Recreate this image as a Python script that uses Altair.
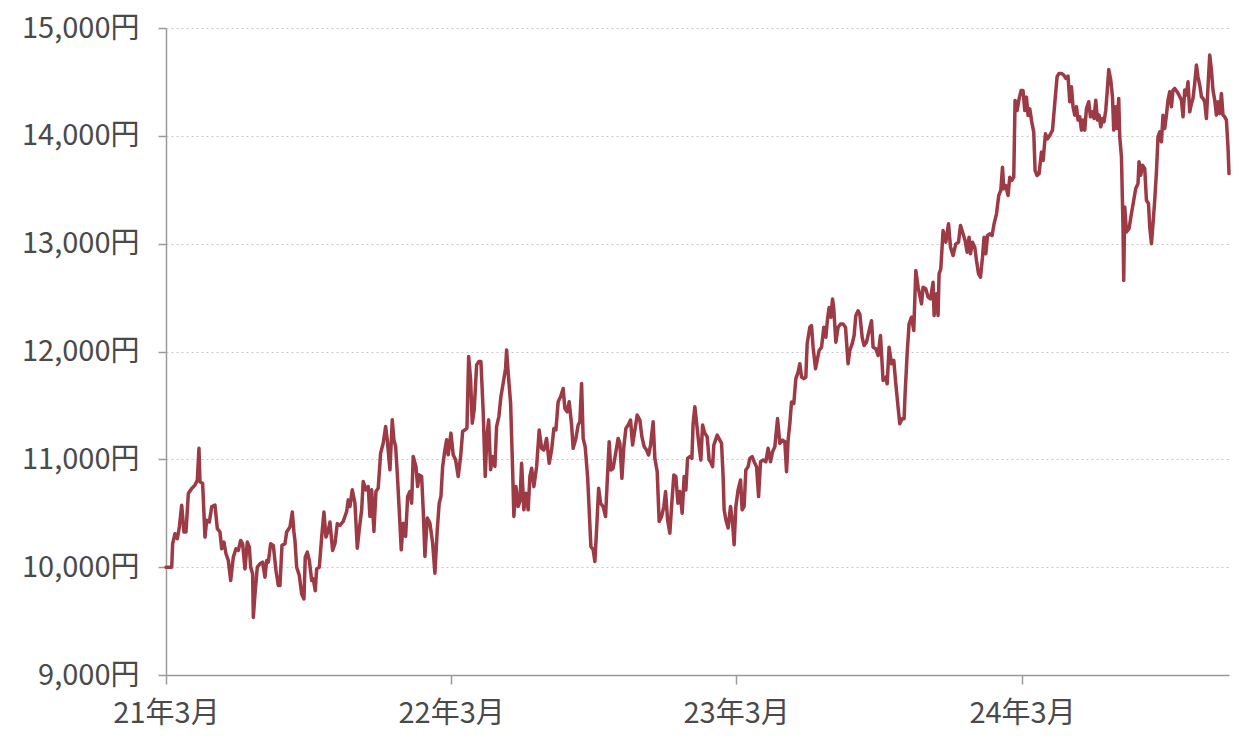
import altair as alt
import pandas as pd

start_date = "2021-03-01"

# days after 2021-03-01 and fund NAV (円)
days = [
    0.0, 7.3, 8.5, 11.5, 14.5, 17.1, 20.1, 23.0, 25.6, 28.6, 32.9, 37.1, 40.1, 42.2, 43.5, 46.9,
    49.9, 52.1, 55.5, 58.5, 62.7, 65.7, 69.1, 71.3, 74.2, 76.8, 79.8, 82.8, 86.2, 89.6, 92.6, 95.6,
    98.1, 101.1, 104.1, 106.7, 108.4, 110.9, 111.8, 113.9, 116.9, 120.3, 123.7, 126.7, 128.9, 131.0,
    134.0, 137.4, 140.8, 143.8, 145.9, 148.5, 152.3, 154.5, 158.7, 161.7, 163.8, 165.1, 167.3, 170.7,
    173.7, 176.6, 178.3, 180.9, 183.5, 186.5, 188.6, 191.1, 192.9, 196.3, 199.3, 202.2, 204.8, 207.8,
    209.9, 213.3, 216.3, 219.3, 222.7,
    226.9, 231.3, 233.3, 235.5, 238.5, 241.9, 244.9, 247.4, 250.5, 252.5, 256.0, 258.9, 261.1, 263.3,
    266.2, 268.8, 271.7, 274.8, 278.1, 281.2, 283.3, 286.7, 289.7, 291.8, 294.0, 296.1, 298.6, 301.2,
    303.7, 306.8, 309.4, 312.3, 314.5, 316.5, 320.0, 322.2, 324.2, 327.3, 329.3, 331.5, 334.5, 337.9,
    341.4, 344.3, 347.3, 349.8, 352.0, 354.2, 357.1, 359.3, 361.3, 364.8, 367.7, 370.8, 374.1, 377.2,
    379.8, 382.7, 385.3, 387.5, 390.0, 392.1, 394.6, 397.7, 400.6, 403.2, 406.1, 408.7, 410.9, 413.1,
    415.6, 418.2, 421.1, 423.3, 426.2, 428.8, 431.7, 434.8, 436.1, 438.1, 441.2, 443.8, 445.4, 448.0,
    450.9, 453.1, 455.3, 458.2, 460.8, 463.7, 465.9,
    468.1, 471.0, 474.5, 477.8, 480.9, 483.8, 487.3, 490.6, 493.7, 496.6, 499.2, 502.1, 505.2, 508.5,
    510.7, 513.7, 516.2, 519.3, 521.3, 524.8, 527.7, 529.9, 532.1, 534.1, 536.7, 539.8, 541.8, 544.0,
    546.9, 549.1, 551.3, 553.9, 556.4, 559.7, 562.8, 564.9, 567.4, 569.6, 572.5, 576.0, 578.9, 581.1,
    583.7, 586.2, 588.8, 591.7, 594.8, 597.4, 600.3, 603.3, 606.7, 609.3, 612.2, 615.3, 617.9, 620.4,
    623.7, 625.9, 628.9, 631.4, 634.5, 637.4, 639.6, 642.2, 645.1, 647.3, 650.2, 652.8, 655.4, 657.9,
    660.9, 663.4, 665.6, 667.8, 670.7, 673.3, 674.9, 677.1, 680.1, 682.6, 684.8, 687.0, 689.9, 692.9,
    695.4,
    697.2, 699.8, 701.4, 705.7, 709.1, 711.3, 713.3, 714.6, 716.8, 719.7, 722.8, 725.4, 727.4, 729.6,
    732.5, 735.6, 737.7, 740.2, 742.4, 745.3, 747.5, 750.5, 753.0, 756.1, 758.7, 761.2, 764.5, 768.0,
    770.9, 774.0, 776.6, 779.5, 783.0, 785.9, 789.4, 792.3, 794.5, 796.5, 798.7, 800.9, 803.8, 806.4,
    809.3, 811.5, 813.7, 816.6, 819.2, 820.9, 824.3, 826.5, 828.5, 831.6, 833.7, 836.2, 839.3, 842.2,
    844.8, 847.0, 849.0, 851.2, 853.4, 855.0, 857.6, 860.5, 863.6, 866.9, 870.0, 873.3, 875.5, 878.5,
    881.0, 883.2, 886.1, 888.3, 891.3, 893.8, 896.9, 900.2, 903.3, 905.3, 908.8, 911.7, 914.8,
    918.1, 921.6, 923.3, 925.8, 928.9, 931.8, 934.4, 937.3, 939.5, 942.5, 945.0, 946.3, 948.9, 951.4,
    954.5, 957.4, 960.0, 963.0, 967.3, 969.3, 972.8, 975.7, 978.8, 982.1, 983.4, 986.5, 988.5, 989.8,
    992.0, 994.9, 998.4, 1001.9, 1004.4, 1007.7, 1011.2, 1014.7, 1017.2, 1020.5, 1023.1, 1025.7,
    1028.2, 1030.0, 1032.6, 1035.5, 1037.7, 1040.3, 1042.8, 1045.4, 1047.4, 1049.6, 1051.8, 1054.7,
    1057.7, 1060.2, 1063.3, 1066.2, 1068.8, 1071.0, 1072.6, 1075.2, 1078.1, 1080.3, 1082.9, 1085.4,
    1087.1, 1089.7, 1092.2, 1094.8, 1097.3, 1099.5, 1101.7, 1103.7, 1105.9, 1108.5, 1111.0, 1112.7,
    1115.3, 1117.8, 1120.9, 1123.0, 1126.0, 1128.6, 1131.5,
    1135.0, 1137.9, 1140.9, 1143.4, 1146.5, 1149.4, 1152.0, 1154.9, 1157.1, 1159.3, 1161.3, 1163.5,
    1165.7, 1167.7, 1169.9, 1172.1, 1174.1, 1176.3, 1178.5, 1181.4, 1183.6, 1186.2, 1188.2, 1190.4,
    1192.6, 1194.6, 1196.8, 1199.0, 1201.0, 1203.2, 1204.9, 1207.0, 1209.6, 1211.8, 1213.4, 1215.6,
    1217.7, 1219.8, 1221.1, 1223.3, 1225.3, 1226.2, 1227.5, 1229.7, 1233.0, 1236.1, 1239.0, 1241.6,
    1244.5, 1245.8, 1248.0, 1250.2, 1253.1, 1255.3, 1257.9, 1259.5, 1261.7, 1263.7, 1265.9, 1268.1,
    1270.1, 1272.3, 1274.5, 1276.5, 1278.7, 1280.9, 1282.9, 1285.1, 1287.3, 1289.3, 1291.5, 1294.5,
    1297.0, 1300.1, 1302.1, 1304.3, 1306.5, 1308.5, 1310.7, 1312.9, 1314.9, 1317.1, 1319.3, 1321.3,
    1323.5, 1325.7, 1327.7, 1329.9, 1332.1, 1334.1, 1336.3, 1338.5, 1340.5, 1342.7, 1344.9, 1346.9,
    1349.1, 1351.3, 1353.3, 1355.5, 1357.7, 1359.7, 1361.0,
]

nav = [
    10000, 10000, 10217, 10310, 10264, 10373, 10575, 10326, 10326, 10683, 10730, 10761, 10807, 11102, 10792, 10776,
    10279, 10435, 10419, 10559, 10575, 10357, 10326, 10171, 10233, 10124, 10062, 9876, 10093, 10171, 10155, 10248,
    10217, 9984, 10233, 10186, 10000, 9938, 9534, 9751, 10000, 10031, 10047, 9907, 10062, 10047,
    10217, 10202, 9969, 9829, 9829, 10202, 10217, 10326, 10373, 10512, 10326, 10248, 10000, 9922,
    9751, 9705, 10093, 10140, 10062, 9876, 9891, 9782, 9984, 10000, 10279, 10512, 10279, 10342,
    10419, 10155, 10217, 10404, 10388,
    10424, 10516, 10624, 10563, 10717, 10594, 10176, 10346, 10532, 10795, 10717, 10748, 10470, 10717,
    10331, 10702, 10733, 11057, 11150, 11305, 11181, 10903, 11366, 11181, 11119, 10872, 10532, 10161,
    10408, 10285, 10655, 10702, 10594, 11026, 10934, 10748, 10856, 10841, 10532, 10099, 10455, 10408,
    10223, 9944, 10346, 10594, 10655, 10934, 11088, 11181, 11042, 11243, 11042, 10995, 10841, 11026,
    11258, 11274, 11289, 11954, 11737, 11335, 11459, 11876, 11907, 11907, 11444, 10841, 11212, 11366,
    10903, 11026, 10934, 11305, 11397, 11583, 11706, 11845, 12015, 11799, 11521, 10903, 10470, 10748,
    10563, 10609, 10964, 10532, 10686, 10532, 10841,
    10917, 10747, 10932, 11272, 11102, 11086, 11194, 10963, 11086, 11287, 11272, 11534, 11580, 11657,
    11472, 11441, 11534, 11318, 11102, 11194, 11318, 11349, 11704, 11194, 11117, 10840, 10531, 10191,
    10161, 10053, 10346, 10732, 10593, 10562, 10469, 10793, 11164, 10901, 10917, 11071, 11194, 11148,
    10824, 11117, 11287, 11318, 11364, 11133, 11272, 11410, 11364, 11210, 11117, 11086, 11040, 11133,
    11349, 11009, 10886, 10423, 10469, 10562, 10701, 10438, 10315, 10562, 10855, 10840, 10593, 10701,
    10500, 10840, 10716, 11009, 11025, 11009, 11333, 11488, 11287, 11117, 10994, 11318, 11241, 11210,
    10994,
    10978, 10932, 11132, 11225, 11178, 11148, 10840, 10532, 10440, 10363, 10563, 10409, 10209, 10563,
    10717, 10809, 10532, 10563, 10902, 10932, 11009, 11025, 10978, 10932, 10655, 10978, 10994, 10978,
    11102, 10978, 11071, 11117, 11378, 11148, 11178, 11163, 10886, 11178, 11332, 11532, 11517, 11748,
    11809, 11886, 11763, 11748, 11763, 12071, 12225, 12240, 12040, 11840, 11917, 12009, 12040, 12225,
    12132, 12302, 12409, 12317, 12486, 12394, 12086, 12225, 12255, 12255, 12225, 11886, 12009, 12071,
    12148, 12332, 12378, 12348, 12132, 12055, 12086, 12194, 12286, 12040, 12025, 11963, 12148,
    11731, 11762, 11700, 12040, 11886, 11917, 11700, 11484, 11329, 11376, 11376, 11608, 11978, 12257,
    12318, 12195, 12751, 12596, 12442, 12596, 12581, 12504, 12488, 12643, 12334, 12535, 12334, 12720,
    12767, 13122, 13014, 13184, 12968, 12890, 12998, 13014, 13169, 13091, 13029, 12921,
    13060, 12906, 13014, 12968, 12844, 12720, 12689, 12875, 13060, 12906, 13076, 13091,
    13076, 13184, 13277, 13447, 13493, 13709, 13509, 13539, 13447, 13617, 13586, 13617,
    14328, 14235, 14343, 14420, 14420, 14235, 14359, 14189, 14250, 14127, 14034, 13679,
    13632, 13648, 13849, 13771, 14019, 13972, 14003,
    14053, 14300, 14548, 14579, 14579, 14563, 14533, 14554, 14316, 14455, 14269, 14192,
    14269, 14146, 14176, 14053, 14146, 14053, 14254, 14316, 14176, 14223, 14161, 14331,
    14146, 14192, 14084, 14161, 14130, 14238, 14393, 14616, 14517, 14362, 14053, 14269,
    14068, 14347, 13991, 13805, 13155, 12659, 13341, 13108, 13139, 13279, 13402, 13511,
    13557, 13759, 13635, 13728, 13697, 13402, 13372, 13155, 13000, 13186, 13402, 13666,
    13991, 14037, 13944, 14192, 14068, 14192, 14331, 14409, 14269, 14424, 14440, 14409,
    14378, 14331, 14176, 14424, 14378, 14502, 14223, 14300, 14347, 14486, 14656, 14548,
    14471, 14362, 14347, 14316, 14161, 14455, 14749, 14610, 14424, 14331, 14192, 14316,
    14207, 14393, 14192, 14176, 14146, 13898, 13650,
]

y_ticks = [9000, 10000, 11000, 12000, 13000, 14000, 15000]
x_ticks = [(2021, 3), (2022, 3), (2023, 3), (2024, 3)]

dates = pd.Timestamp(start_date) + pd.to_timedelta(days, unit="D")
df = pd.DataFrame({
    "date": [d.strftime("%Y-%m-%dT%H:%M:%S") for d in dates],
    "nav": nav,
})

font = "Noto Sans CJK JP"

chart = alt.Chart(df).mark_line(
    color="#9c3a45", strokeWidth=3.5, strokeJoin="round", strokeCap="round"
).encode(
    x=alt.X(
        "date:T",
        scale=alt.Scale(nice=False),
        axis=alt.Axis(
            title=None,
            values=[alt.DateTime(year=y, month=m, date=1) for y, m in x_ticks],
            format="%y年%-m月",
            grid=False,
            tickSize=9,
            labelPadding=15,
            labelFlush=False,
        ),
    ),
    y=alt.Y(
        "nav:Q",
        scale=alt.Scale(domain=[9000, 15000], nice=False, zero=False),
        axis=alt.Axis(
            title=None,
            values=y_ticks,
            labelExpr="format(datum.value, ',') + '円'",
            grid=True,
            gridColor="#c8c8c8",
            gridDash=[2, 3],
            gridWidth=1.2,
            tickSize=8,
            labelPadding=19,
        ),
    ),
).properties(
    width=1063,
    height=647,
    autosize=alt.AutoSizeParams(type="none"),
    padding={"left": 158, "top": 20, "right": 14, "bottom": 55},
).configure_view(
    stroke=None
).configure_axis(
    domainColor="#9a9a9a",
    domainWidth=1.5,
    tickColor="#9a9a9a",
    tickWidth=1.5,
    labelFont=font,
    labelFontSize=29,
    labelColor="#4a4a4a",
)

chart.save("out.html", embed_options={"renderer": "svg", "actions": False})
